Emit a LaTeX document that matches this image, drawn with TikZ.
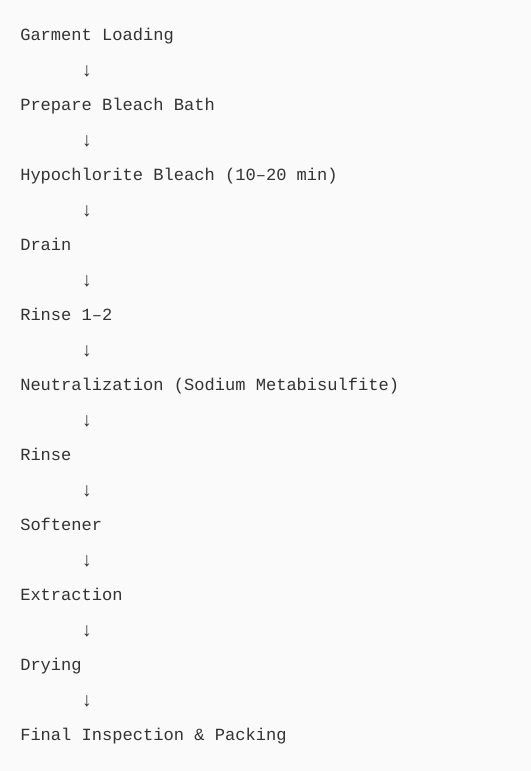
\documentclass[tikz,border=0pt]{standalone}
\usepackage{fontspec}
\setmonofont{Liberation Mono}
\definecolor{pagebg}{HTML}{FAFAFA}
\definecolor{steptext}{HTML}{333333}
\tikzset{
  stepline/.style={anchor=base west, inner sep=0pt, text=steptext, font=\fontsize{12.8pt}{15pt}\ttfamily},
  downglyph/.style={stepline, xshift=45.6pt, font=\fontsize{14.5pt}{17pt}\ttfamily}
}
\begin{document}
\begin{tikzpicture}[x=0.75pt, y=-0.75pt]
% Page
\fill[pagebg] (0,0) rectangle (531,771);
\useasboundingbox (0,0) rectangle (531,771);

% Steps
\node[stepline] (load) at (20,40.5) {Garment Loading};
\node[downglyph] (d1) at (20,76) {↓};
\node[stepline] (bath) at (20,110.5) {Prepare Bleach Bath};
\node[downglyph] (d2) at (20,146) {↓};
\node[stepline] (bleach) at (20,180.5) {Hypochlorite Bleach (10–20 min)};
\node[downglyph] (d3) at (20,216) {↓};
\node[stepline] (drain) at (20,250.5) {Drain};
\node[downglyph] (d4) at (20,286) {↓};
\node[stepline] (rinseA) at (20,320.5) {Rinse 1–2};
\node[downglyph] (d5) at (20,356) {↓};
\node[stepline] (neutral) at (20,390.5) {Neutralization (Sodium Metabisulfite)};
\node[downglyph] (d6) at (20,426) {↓};
\node[stepline] (rinseB) at (20,460.5) {Rinse};
\node[downglyph] (d7) at (20,496) {↓};
\node[stepline] (soft) at (20,530.5) {Softener};
\node[downglyph] (d8) at (20,566) {↓};
\node[stepline] (extract) at (20,600.5) {Extraction};
\node[downglyph] (d9) at (20,636) {↓};
\node[stepline] (dry) at (20,670.5) {Drying};
\node[downglyph] (d10) at (20,706) {↓};
\node[stepline] (pack) at (20,740.5) {Final Inspection \& Packing};
\end{tikzpicture}
\end{document}
